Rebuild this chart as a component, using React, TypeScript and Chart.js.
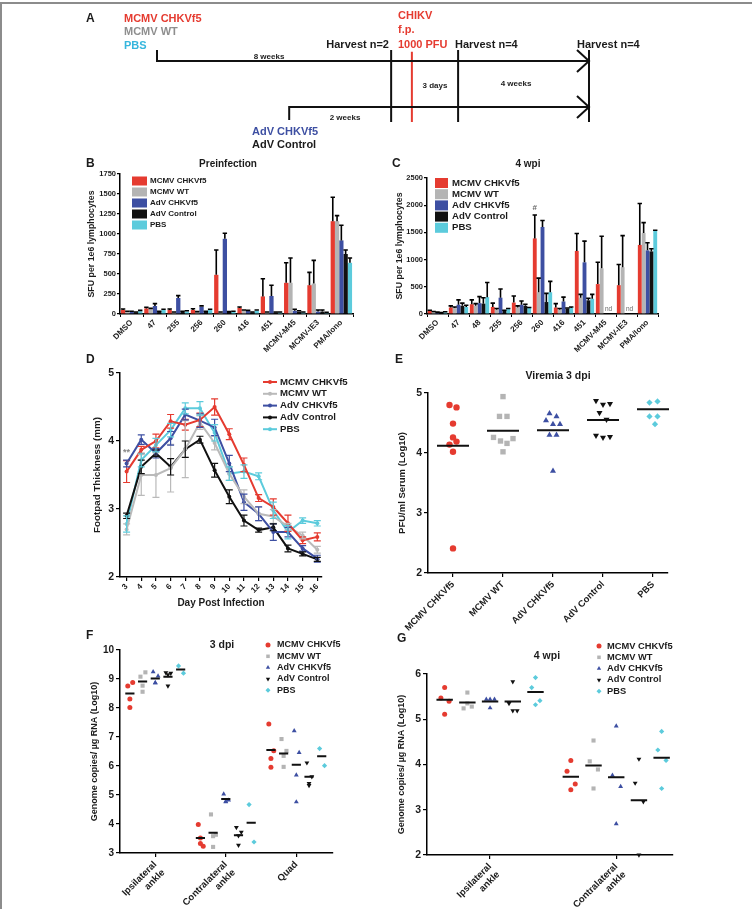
import React, { useEffect, useRef } from "react";
import { Chart, registerables } from "chart.js";

Chart.register(...registerables);

const FONT = "'Liberation Sans', Arial, Helvetica, sans-serif";
const INK = "#1b1b1b";
const RED = "#e53b30";
const GRAY = "#b4b4b4";
const BLUE = "#3d4fa2";
const BLACK = "#111111";
const CYAN = "#5ccbdc";

// ---- groups shared by every panel
const groupNames = ["MCMV CHKVf5", "MCMV WT", "AdV CHKVf5", "AdV Control", "PBS"];
const groupColors = [RED, GRAY, BLUE, BLACK, CYAN];
const groupMarkers = ["circle", "rect", "triangle", "triangle", "rectRot"];
const groupMarkerTurn = [0, 0, 0, 180, 0];

// ---- A: immunisation / challenge timeline (schematic units 0..100 along the arrows)
const primeStart = [0, 30.6];
const primeLane = [1, 0];
const eventAt = [54.2, 59.0, 69.7, 100];
const eventColor = [BLACK, RED, BLACK, BLACK];

// ---- B: ELISpot before infection
const preCats = ["DMSO", "47", "255", "256", "260", "416", "451", "MCMV-M45", "MCMV-IE3", "PMA/Iono"];
const preMcmvChk = [50, 70, 50, 50, 490, 75, 220, 390, 360, 1160];
const preMcmvChkErr = [12, 15, 12, 15, 310, 12, 220, 250, 160, 300];
const preMcmvWt = [30, 60, 20, 25, 20, 45, 20, 390, 380, 1160];
const preMcmvWtErr = [5, 10, 5, 5, 5, 5, 5, 310, 290, 70];
const preAdvChk = [30, 100, 200, 90, 940, 40, 225, 40, 30, 920];
const preAdvChkErr = [5, 30, 30, 12, 70, 5, 135, 20, 20, 190];
const preAdvCtl = [20, 30, 30, 30, 25, 20, 20, 30, 30, 750];
const preAdvCtlErr = [5, 5, 5, 5, 5, 5, 5, 10, 20, 50];
const prePbs = [35, 50, 30, 50, 30, 40, 20, 20, 15, 640];
const prePbsErr = [10, 10, 10, 10, 5, 10, 5, 5, 5, 60];

// ---- C: ELISpot 4 weeks post infection
const wpiCats = ["DMSO", "47", "48", "255", "256", "260", "416", "451", "MCMV-M45", "MCMV-IE3", "PMA/Iono"];
const wpiMcmvChk = [60, 120, 180, 130, 210, 1390, 120, 1160, 550, 530, 1270];
const wpiMcmvChkErr = [10, 30, 80, 70, 120, 430, 70, 320, 400, 380, 760];
const wpiMcmvWt = [40, 110, 150, 80, 120, 400, 80, 300, 840, 860, 1490];
const wpiMcmvWtErr = [5, 20, 40, 20, 30, 260, 20, 60, 590, 580, 190];
const wpiAdvChk = [30, 170, 200, 300, 170, 1600, 230, 950, null, null, 1170];
const wpiAdvChkErr = [5, 90, 120, 160, 70, 120, 80, 390, 0, 0, 140];
const wpiAdvCtl = [20, 150, 190, 60, 150, 220, 100, 250, null, null, 1150];
const wpiAdvCtlErr = [5, 50, 110, 10, 30, 160, 10, 40, 0, 0, 50];
const wpiPbs = [30, 130, 310, 90, 110, 400, 110, 280, null, null, 1530];
const wpiPbsErr = [10, 30, 270, 10, 10, 200, 20, 80, 0, 0, 10];
const wpiHashAt = 5;
const wpiNdAt = [8, 9];

// ---- D: footpad swelling
const days = [3, 4, 5, 6, 7, 8, 9, 10, 11, 12, 13, 14, 15, 16];
const dMcmvChk = [3.55, 3.87, 4.0, 4.29, 4.24, 4.31, 4.5, 4.1, 3.65, 3.16, 3.03, 2.79, 2.54, 2.59];
const dMcmvChkErr = [0.16, 0.05, 0.1, 0.1, 0.08, 0.1, 0.12, 0.08, 0.1, 0.05, 0.12, 0.12, 0.05, 0.06];
const dMcmvWt = [2.7, 3.5, 3.5, 3.6, 3.88, 4.27, 3.97, 3.52, 3.18, 2.93, 2.89, 2.74, 2.61, 2.4];
const dMcmvWtErr = [0.08, 0.3, 0.33, 0.35, 0.42, 0.1, 0.1, 0.1, 0.1, 0.1, 0.1, 0.05, 0.05, 0.05];
const dAdvChk = [3.67, 4.02, 3.82, 4.04, 4.39, 4.3, 4.2, 3.67, 3.1, 2.93, 2.66, 2.66, 2.42, 2.27];
const dAdvChkErr = [0.05, 0.07, 0.07, 0.1, 0.08, 0.1, 0.12, 0.12, 0.12, 0.1, 0.12, 0.07, 0.04, 0.05];
const dAdvCtl = [2.9, 3.62, 3.82, 3.62, 3.88, 4.02, 3.57, 3.18, 2.83, 2.69, 2.73, 2.42, 2.34, 2.26];
const dAdvCtlErr = [0.04, 0.1, 0.05, 0.12, 0.12, 0.05, 0.1, 0.1, 0.08, 0.03, 0.05, 0.05, 0.03, 0.03];
const dPbs = [2.78, 3.72, 3.94, 4.16, 4.48, 4.48, 4.12, 3.52, 3.55, 3.48, 2.98, 2.66, 2.83, 2.79];
const dPbsErr = [0.12, 0.1, 0.1, 0.1, 0.08, 0.1, 0.12, 0.1, 0.1, 0.05, 0.12, 0.1, 0.04, 0.04];
const dStarDay = 3;

// ---- E: viremia 3 dpi
const eMcmvChk = [4.8, 4.76, 4.49, 4.26, 4.19, 4.14, 4.02, 2.41];
const eMcmvChkJit = [-0.07, 0.07, 0, 0, 0.07, -0.07, 0, 0];
const eMcmvWt = [4.94, 4.61, 4.61, 4.26, 4.2, 4.16, 4.24, 4.02];
const eMcmvWtJit = [0, -0.07, 0.08, -0.19, -0.05, 0.08, 0.2, 0];
const eAdvChk = [4.66, 4.61, 4.54, 4.48, 4.48, 4.3, 4.3, 3.7];
const eAdvChkJit = [-0.07, 0.07, -0.14, 0, 0.14, -0.07, 0.07, 0];
const eAdvCtl = [4.87, 4.81, 4.82, 4.67, 4.56, 4.29, 4.26, 4.27];
const eAdvCtlJit = [-0.14, 0, 0.14, -0.07, 0.07, -0.14, 0, 0.14];
const ePbs = [4.84, 4.86, 4.61, 4.61, 4.48];
const ePbsJit = [-0.07, 0.09, -0.07, 0.09, 0.04];
const eMean = [4.12, 4.37, 4.38, 4.55, 4.73];

// ---- F: viral RNA 3 dpi (per tissue: ipsilateral ankle, contralateral ankle, quad)
const fTissues = [["Ipsilateral", "ankle"], ["Contralateral", "ankle"], ["Quad"]];
const fMcmvChk = [[8.76, 8.88, 8.31, 8.02], [3.98, 3.23, 3.33, 3.52], [7.45, 6.53, 6.26, 5.96]];
const fMcmvWt = [[9.08, 9.23, 8.77, 8.56], [4.33, 3.63, 3.58, 3.21], [6.93, 6.52, 6.35, 5.97]];
const fAdvChk = [[9.25, 9.1, 8.87, 8.87], [5.03, 4.82, 4.76, 4.78], [7.21, 6.46, 5.69, 4.76]];
const fAdvCtl = [[9.22, 9.2, 9.15, 8.76], [3.88, 3.72, 3.27, 3.6], [6.11, 5.63, 5.4, 5.33]];
const fPbs = [[9.45, 9.2], [4.67, 3.38], [6.6, 6.01]];
const fMean = [[8.5, 8.91, 9.02, 9.08, 9.33], [3.52, 3.7, 4.86, 3.61, 4.04], [6.55, 6.43, 6.04, 5.63, 6.34]];

// ---- G: viral RNA 4 wpi
const gTissues = [["Ipsilateral", "ankle"], ["Contralateral", "ankle"]];
const gMcmvChk = [[5.7, 5.47, 5.4, 5.11], [4.09, 3.85, 3.57, 3.44]];
const gMcmvWt = [[5.59, 5.24, 5.28, 5.35], [4.53, 4.07, 3.89, 3.47]];
const gAdvChk = [[5.44, 5.44, 5.44, 5.25], [4.85, 3.76, 3.51, 2.69]];
const gAdvCtl = [[5.83, 5.35, 5.19, 5.19], [4.12, 3.59, 3.18, 2.0]];
const gPbs = [[5.92, 5.7, 5.41, 5.32], [4.73, 4.32, 4.09, 3.47]];
const gMean = [[5.43, 5.37, 5.39, 5.39, 5.6], [3.73, 3.98, 3.72, 3.21, 4.15]];

// ---------------------------------------------------------------- helpers
type Rect = { left: number; top: number; width: number; height: number };
type Area = { left: number; top: number; right: number; bottom: number };

const bold = (size: number) => ({ family: FONT, size, weight: "bold" as const });

function frame(box: Rect, area: Area) {
  return {
    padding: { top: area.top - box.top, right: box.left + box.width - area.right, left: 0, bottom: 0 },
    yWidth: area.left - box.left,
    xHeight: box.top + box.height - area.bottom,
  };
}

function baseOptions(fr: any) {
  return {
    responsive: false,
    animation: false,
    devicePixelRatio: 1,
    events: [],
    layout: { padding: fr.padding },
    plugins: { legend: { display: false }, tooltip: { enabled: false }, title: { display: false } },
  };
}

function yAxis(fr: any, min: number, max: number, step: number, size: number, title: string, titleSize: number, tickLen = 4, pad = 2) {
  return {
    type: "linear",
    position: "left",
    min,
    max,
    afterFit: (s: any) => {
      s.width = fr.yWidth;
      s.paddingTop = 0;
      s.paddingBottom = 0;
    },
    border: { display: true, color: "#000", width: 1.5 },
    grid: { display: true, drawOnChartArea: false, drawTicks: true, tickLength: tickLen, color: "#000", lineWidth: 1.2 },
    ticks: { stepSize: step, color: INK, font: bold(size), padding: pad, callback: (v: any) => String(v) },
    title: { display: true, text: title, color: INK, font: bold(titleSize), padding: 0 },
  };
}

function xFit(fr: any) {
  return (s: any) => {
    s.height = fr.xHeight;
    s.paddingLeft = 0;
    s.paddingRight = 0;
  };
}

function drawMarker(ctx: CanvasRenderingContext2D, style: string, x: number, y: number, r: number, turn: number, color: string) {
  ctx.save();
  ctx.translate(x, y);
  ctx.rotate((turn * Math.PI) / 180);
  ctx.fillStyle = color;
  ctx.beginPath();
  if (style === "rect") {
    const s = r * Math.SQRT1_2;
    ctx.rect(-s, -s, 2 * s, 2 * s);
  } else if (style === "rectRot") {
    ctx.moveTo(-r, 0);
    ctx.lineTo(0, -r);
    ctx.lineTo(r, 0);
    ctx.lineTo(0, r);
    ctx.closePath();
  } else if (style === "triangle") {
    let a = 0;
    ctx.moveTo(Math.sin(a) * r, -Math.cos(a) * r);
    a += (2 * Math.PI) / 3;
    ctx.lineTo(Math.sin(a) * r, -Math.cos(a) * r);
    a += (2 * Math.PI) / 3;
    ctx.lineTo(Math.sin(a) * r, -Math.cos(a) * r);
    ctx.closePath();
  } else {
    ctx.arc(0, 0, r, 0, Math.PI * 2);
  }
  ctx.fill();
  ctx.restore();
}

// legend drawn inside / above the plotting area
function insetLegend(o: any) {
  return {
    id: "insetLegend",
    afterDraw(chart: any) {
      const ctx = chart.ctx as CanvasRenderingContext2D;
      const a = chart.chartArea;
      let k = 0;
      chart.data.datasets.forEach((ds: any) => {
        if (!ds.inLegend) return;
        const x = a.left + o.dx;
        const y = a.top + o.dy + k * o.row;
        k++;
        let tx = x;
        if (o.kind === "bar") {
          ctx.fillStyle = ds.backgroundColor;
          ctx.fillRect(x, y - o.boxH / 2, o.boxW, o.boxH);
          tx = x + o.boxW + o.gap;
        } else if (o.kind === "line") {
          ctx.save();
          ctx.strokeStyle = ds.borderColor;
          ctx.lineWidth = 2;
          ctx.beginPath();
          ctx.moveTo(x, y);
          ctx.lineTo(x + o.boxW, y);
          ctx.stroke();
          ctx.restore();
          drawMarker(ctx, "circle", x + o.boxW / 2, y, o.r, 0, ds.borderColor);
          tx = x + o.boxW + o.gap;
        } else {
          drawMarker(ctx, ds.pointStyle, x, y, o.r, ds.pointRotation || 0, ds.backgroundColor);
          tx = x + o.gap;
        }
        ctx.save();
        ctx.fillStyle = INK;
        ctx.font = `bold ${o.size}px ${FONT}`;
        ctx.textAlign = "left";
        ctx.textBaseline = "middle";
        ctx.fillText(ds.label, tx, y);
        ctx.restore();
      });
    },
  };
}

// SEM / SD whiskers read from dataset.errs
function errorBars(mode: "up" | "both", cap: number, width: number) {
  return {
    id: "errorBars",
    afterDatasetsDraw(chart: any) {
      const ctx = chart.ctx as CanvasRenderingContext2D;
      const ys = chart.scales.y;
      chart.data.datasets.forEach((ds: any, i: number) => {
        const errs = ds.errs;
        if (!errs) return;
        const meta = chart.getDatasetMeta(i);
        ctx.save();
        ctx.strokeStyle = mode === "up" ? "#000" : ds.borderColor;
        ctx.lineWidth = width;
        meta.data.forEach((el: any, j: number) => {
          const raw = ds.data[j];
          const v = typeof raw === "number" ? raw : raw && raw.y;
          if (v == null || !errs[j]) return;
          const top = ys.getPixelForValue(v + errs[j]);
          const bot = mode === "up" ? ys.getPixelForValue(v) : ys.getPixelForValue(v - errs[j]);
          const cx = el.x;
          ctx.beginPath();
          ctx.moveTo(cx, bot);
          ctx.lineTo(cx, top);
          ctx.moveTo(cx - cap, top);
          ctx.lineTo(cx + cap, top);
          if (mode === "both") {
            ctx.moveTo(cx - cap, bot);
            ctx.lineTo(cx + cap, bot);
          }
          ctx.stroke();
        });
        ctx.restore();
      });
    },
  };
}

function meanSegments(means: number[], center: (g: number) => number, half: number) {
  const pts: any[] = [];
  means.forEach((m, g) => {
    const c = center(g);
    pts.push({ x: c - half, y: m }, { x: c + half, y: m }, { x: c + half, y: null });
  });
  return pts;
}

// ---------------------------------------------------------------- chart configs
function timelineConfig() {
  const seg = (pts: number[][], color: string) => ({
    data: pts.map(([x, y]) => ({ x, y })),
    showLine: true,
    borderColor: color,
    borderWidth: 2,
    pointRadius: 0,
    borderCapStyle: "butt",
    borderJoinStyle: "miter",
    clip: false,
  });
  const ds: any[] = [];
  primeStart.forEach((s, i) => {
    const lane = primeLane[i];
    const tickEnd = lane === 1 ? lane + 0.239 : lane - 0.283;
    ds.push(seg([[s, tickEnd], [s, lane], [100, lane]], BLACK));
    ds.push(seg([[100 - 2.78, lane + 0.239], [100, lane], [100 - 2.78, lane - 0.239]], BLACK));
  });
  eventAt.forEach((x, i) => ds.push(seg([[x, i === 1 ? 1.2 : 1.239], [x, -0.326]], eventColor[i])));
  return {
    type: "scatter",
    data: { datasets: ds },
    options: {
      ...baseOptions({ padding: 0 }),
      scales: {
        x: { type: "linear", display: false, min: -17.824, max: 121.065 },
        y: { type: "linear", display: false, min: -1.152, max: 2.326 },
      },
    },
  };
}

function barConfig(box: Rect, area: Area, cats: string[], vals: any[][], errs: number[][], yMax: number, yStep: number, leg: any, extra: any[]) {
  const fr = frame(box, area);
  return {
    type: "bar",
    data: {
      labels: cats,
      datasets: groupNames.map((n, g) => ({
        label: n,
        data: vals[g],
        errs: errs[g],
        backgroundColor: groupColors[g],
        borderWidth: 0,
        categoryPercentage: 0.92,
        barPercentage: 1,
        inLegend: true,
      })),
    },
    options: {
      ...baseOptions(fr),
      scales: {
        x: {
          type: "category",
          position: "bottom",
          afterFit: xFit(fr),
          border: { display: true, color: "#000", width: 1.5 },
          grid: { display: true, drawOnChartArea: false, tickLength: 3, color: "#000", lineWidth: 1 },
          ticks: { color: INK, font: bold(8), minRotation: 45, maxRotation: 45, autoSkip: false, padding: 1 },
        },
        y: yAxis(fr, 0, yMax, yStep, 7.5, "SFU per 1e6 lymphocytes", 8.8, 3, 1),
      },
    },
    plugins: [errorBars("up", 2.2, 1.6), insetLegend(leg), ...extra],
  };
}

const preBox = { left: 86, top: 168, width: 279, height: 197 };
const wpiBox = { left: 394, top: 170, width: 278, height: 195 };

function preConfig() {
  return barConfig(
    preBox,
    { left: 120, top: 174, right: 353, bottom: 314 },
    preCats,
    [preMcmvChk, preMcmvWt, preAdvChk, preAdvCtl, prePbs],
    [preMcmvChkErr, preMcmvWtErr, preAdvChkErr, preAdvCtlErr, prePbsErr],
    1750,
    250,
    { kind: "bar", dx: 12, dy: 7, row: 11, boxW: 15, boxH: 9, gap: 3, size: 8 },
    []
  );
}

function wpiConfig() {
  const notes = {
    id: "wpiNotes",
    afterDatasetsDraw(chart: any) {
      const ctx = chart.ctx as CanvasRenderingContext2D;
      const xs = chart.scales.x;
      const ys = chart.scales.y;
      ctx.save();
      ctx.fillStyle = "#666";
      ctx.textAlign = "center";
      ctx.font = `bold 8px ${FONT}`;
      ctx.textBaseline = "bottom";
      const el = chart.getDatasetMeta(0).data[wpiHashAt];
      ctx.fillText("#", el.x, ys.getPixelForValue(wpiMcmvChk[wpiHashAt] + wpiMcmvChkErr[wpiHashAt]) - 3);
      ctx.font = `6.5px ${FONT}`;
      ctx.textBaseline = "middle";
      wpiNdAt.forEach((i) => ctx.fillText("nd", xs.getPixelForValue(i) + 3, chart.chartArea.bottom - 5));
      ctx.restore();
    },
  };
  return barConfig(
    wpiBox,
    { left: 427, top: 178, right: 658, bottom: 314 },
    wpiCats,
    [wpiMcmvChk, wpiMcmvWt, wpiAdvChk, wpiAdvCtl, wpiPbs],
    [wpiMcmvChkErr, wpiMcmvWtErr, wpiAdvChkErr, wpiAdvCtlErr, wpiPbsErr],
    2500,
    500,
    { kind: "bar", dx: 8, dy: 5, row: 11.2, boxW: 13, boxH: 10, gap: 4, size: 9.6 },
    [notes]
  );
}

function footpadConfig() {
  const box = { left: 91, top: 365, width: 269, height: 244 };
  const area = { left: 120, top: 373, right: 322, bottom: 577 };
  const fr = frame(box, area);
  const vals = [dMcmvChk, dMcmvWt, dAdvChk, dAdvCtl, dPbs];
  const errs = [dMcmvChkErr, dMcmvWtErr, dAdvChkErr, dAdvCtlErr, dPbsErr];
  const colors = [RED, "#bababa", BLUE, BLACK, CYAN];
  const stars = {
    id: "stars",
    afterDatasetsDraw(chart: any) {
      const ctx = chart.ctx as CanvasRenderingContext2D;
      const k = days.indexOf(dStarDay);
      ctx.save();
      ctx.fillStyle = "#888";
      ctx.font = `bold 9px ${FONT}`;
      ctx.textAlign = "center";
      ctx.textBaseline = "bottom";
      ctx.fillText("**", chart.scales.x.getPixelForValue(dStarDay), chart.scales.y.getPixelForValue(dMcmvChk[k] + dMcmvChkErr[k]) - 4);
      ctx.restore();
    },
  };
  return {
    type: "line",
    data: {
      datasets: groupNames.map((n, g) => ({
        label: n,
        data: days.map((d, k) => ({ x: d, y: vals[g][k] })),
        errs: errs[g],
        borderColor: colors[g],
        backgroundColor: colors[g],
        borderWidth: 2,
        pointRadius: 2,
        pointBorderWidth: 0,
        tension: 0,
        clip: false,
        inLegend: true,
      })),
    },
    options: {
      ...baseOptions(fr),
      scales: {
        x: {
          type: "linear",
          position: "bottom",
          min: 2.55,
          max: 16.32,
          afterFit: xFit(fr),
          afterBuildTicks: (s: any) => {
            s.ticks = days.map((v) => ({ value: v }));
          },
          border: { display: true, color: "#000", width: 1.5 },
          grid: { display: true, drawOnChartArea: false, tickLength: 4, color: "#000", lineWidth: 1.2 },
          ticks: { color: INK, font: bold(8), minRotation: 45, maxRotation: 45, autoSkip: false, padding: 1, callback: (v: any) => String(v) },
          title: { display: true, text: "Day Post Infection", color: INK, font: bold(10), padding: 0 },
        },
        y: yAxis(fr, 2, 5, 1, 10.5, "Footpad Thickness (mm)", 9.8),
      },
    },
    plugins: [errorBars("both", 3.5, 1.2), insetLegend({ kind: "line", dx: 143, dy: 9, row: 11.8, boxW: 14, gap: 3, size: 9.6, r: 2 }), stars],
  };
}

function scatterAxisX(fr: any, min: number, max: number, labels: any[], size: number) {
  return {
    type: "linear",
    position: "bottom",
    min,
    max,
    afterFit: xFit(fr),
    afterBuildTicks: (s: any) => {
      s.ticks = labels.map((_, i) => ({ value: i }));
    },
    border: { display: true, color: "#000", width: 1.5 },
    grid: { display: true, drawOnChartArea: false, tickLength: 4, color: "#000", lineWidth: 1.2 },
    ticks: { color: INK, font: bold(size), minRotation: 45, maxRotation: 45, autoSkip: false, padding: 2, callback: (v: any) => labels[v] },
  };
}

function viremiaConfig() {
  const box = { left: 397, top: 385, width: 283, height: 265 };
  const area = { left: 428, top: 393, right: 668, bottom: 573 };
  const fr = frame(box, area);
  const vals = [eMcmvChk, eMcmvWt, eAdvChk, eAdvCtl, ePbs];
  const jit = [eMcmvChkJit, eMcmvWtJit, eAdvChkJit, eAdvCtlJit, ePbsJit];
  const radii = [3.2, 3.8, 3.5, 3.5, 3.1];
  const ds: any[] = groupNames.map((n, g) => ({
    label: n,
    data: vals[g].map((v, k) => ({ x: g + jit[g][k], y: v })),
    pointStyle: groupMarkers[g],
    pointRotation: groupMarkerTurn[g],
    pointRadius: radii[g],
    pointBorderWidth: 0,
    backgroundColor: groupColors[g],
    borderColor: groupColors[g],
    clip: false,
  }));
  ds.push({
    data: meanSegments(eMean, (g) => g, 0.32),
    showLine: true,
    spanGaps: false,
    pointRadius: 0,
    borderColor: BLACK,
    borderWidth: 2,
    order: -1,
    clip: false,
  });
  return {
    type: "scatter",
    data: { datasets: ds },
    options: {
      ...baseOptions(fr),
      scales: {
        x: scatterAxisX(fr, -0.5, 4.3, groupNames, 9.3),
        y: yAxis(fr, 2, 5, 1, 10.5, "PFU/ml Serum (Log10)", 9.5),
      },
    },
  };
}

const tissueOffset = [-0.36, -0.18, 0, 0.18, 0.36];

function rnaConfig(box: Rect, area: Area, tissues: any[], series: number[][][], means: number[][], xMax: number, yMin: number, yMax: number, jitter: number[], half: number, leg: any, tickSize: number) {
  const fr = frame(box, area);
  const radii = [2.5, 2.9, 2.8, 2.8, 2.6];
  const ds: any[] = groupNames.map((n, g) => {
    const data: any[] = [];
    tissues.forEach((_, t) => {
      series[g][t].forEach((v, k) => data.push({ x: t + tissueOffset[g] + jitter[k % jitter.length], y: v }));
    });
    return {
      label: n,
      data,
      pointStyle: groupMarkers[g],
      pointRotation: groupMarkerTurn[g],
      pointRadius: radii[g],
      pointBorderWidth: 0,
      backgroundColor: groupColors[g],
      borderColor: groupColors[g],
      clip: false,
      inLegend: true,
    };
  });
  const segs: any[] = [];
  tissues.forEach((_, t) => {
    segs.push(...meanSegments(means[t], (g) => t + tissueOffset[g], half));
  });
  ds.push({
    data: segs,
    showLine: true,
    spanGaps: false,
    pointRadius: 0,
    borderColor: BLACK,
    borderWidth: 2,
    order: -1,
    clip: false,
  });
  return {
    type: "scatter",
    data: { datasets: ds },
    options: {
      ...baseOptions(fr),
      scales: {
        x: scatterAxisX(fr, -0.5, xMax, tissues, 9.5),
        y: yAxis(fr, yMin, yMax, 1, tickSize, "Genome copies/ µg RNA (Log10)", 9),
      },
    },
    plugins: [insetLegend(leg)],
  };
}

function rna3Config() {
  return rnaConfig(
    { left: 89, top: 632, width: 266, height: 277 },
    { left: 120, top: 650, right: 333, bottom: 853 },
    fTissues,
    [fMcmvChk, fMcmvWt, fAdvChk, fAdvCtl, fPbs],
    fMean,
    2.52,
    3,
    10,
    [-0.03, 0.04, 0, 0],
    0.065,
    { kind: "point", dx: 148, dy: -5, row: 11.3, gap: 9, size: 9, r: 2.5 },
    10
  );
}

function rna4Config() {
  return rnaConfig(
    { left: 396, top: 632, width: 304, height: 277 },
    { left: 427, top: 674, right: 673, bottom: 855 },
    gTissues,
    [gMcmvChk, gMcmvWt, gAdvChk, gAdvCtl, gPbs],
    gMean,
    1.45,
    2,
    6,
    [0, -0.03, 0.035, 0],
    0.065,
    { kind: "point", dx: 172, dy: -28, row: 11.3, gap: 8, size: 9.3, r: 2.5 },
    10.5
  );
}

// ---------------------------------------------------------------- components
function ChartBox({ box, config }: { box: Rect; config: () => any }) {
  const ref = useRef<HTMLCanvasElement | null>(null);
  useEffect(() => {
    const chart = new Chart(ref.current as HTMLCanvasElement, config());
    return () => chart.destroy();
  }, []);
  return (
    <canvas
      ref={ref}
      width={box.width}
      height={box.height}
      style={{ position: "absolute", left: box.left, top: box.top, width: box.width, height: box.height }}
    />
  );
}

function Txt({ x, y, size = 11, color = INK, align = "left", children }: any) {
  const tx = align === "center" ? "-50%" : align === "right" ? "-100%" : "0";
  return (
    <div
      style={{
        position: "absolute",
        left: x,
        top: y,
        transform: `translate(${tx}, -50%)`,
        fontFamily: FONT,
        fontWeight: 700,
        fontSize: size,
        lineHeight: 1,
        color,
        whiteSpace: "nowrap",
      }}
    >
      {children}
    </div>
  );
}

export default function App() {
  return (
    <div style={{ position: "absolute", left: 0, top: 0, width: 752, height: 909, background: "#fff", overflow: "hidden" }}>
      <div style={{ position: "absolute", left: 0, top: 2, width: 752, height: 907, borderTop: "2px solid #8c8c8c", borderLeft: "2px solid #8c8c8c", boxSizing: "border-box" }} />

      {/* A */}
      <ChartBox box={{ left: 80, top: 0, width: 600, height: 160 }} config={timelineConfig} />
      <Txt x={86} y={18} size={12}>A</Txt>
      <Txt x={124} y={18} color={RED}>MCMV CHKVf5</Txt>
      <Txt x={124} y={31} color="#8e8e8e">MCMV WT</Txt>
      <Txt x={124} y={45} color="#36b6dd">PBS</Txt>
      <Txt x={398} y={15} color={RED}>CHIKV</Txt>
      <Txt x={398} y={29} color={RED}>f.p.</Txt>
      <Txt x={398} y={44} color={RED}>1000 PFU</Txt>
      <Txt x={389} y={44} align="right">Harvest n=2</Txt>
      <Txt x={455} y={44}>Harvest n=4</Txt>
      <Txt x={577} y={44}>Harvest n=4</Txt>
      <Txt x={269} y={57} size={8} align="center">8 weeks</Txt>
      <Txt x={435} y={86} size={8} align="center">3 days</Txt>
      <Txt x={516} y={84} size={8} align="center">4 weeks</Txt>
      <Txt x={345} y={118} size={8} align="center">2 weeks</Txt>
      <Txt x={252} y={131} color={BLUE}>AdV CHKVf5</Txt>
      <Txt x={252} y={144}>AdV Control</Txt>

      {/* B & C */}
      <ChartBox box={preBox} config={preConfig} />
      <Txt x={86} y={163} size={12}>B</Txt>
      <Txt x={228} y={164} size={10} align="center">Preinfection</Txt>
      <ChartBox box={wpiBox} config={wpiConfig} />
      <Txt x={392} y={163} size={12}>C</Txt>
      <Txt x={528} y={164} size={10} align="center">4 wpi</Txt>

      {/* D & E */}
      <ChartBox box={{ left: 91, top: 365, width: 269, height: 244 }} config={footpadConfig} />
      <Txt x={86} y={359} size={12}>D</Txt>
      <ChartBox box={{ left: 397, top: 385, width: 283, height: 265 }} config={viremiaConfig} />
      <Txt x={395} y={359} size={12}>E</Txt>
      <Txt x={558} y={375} size={10.5} align="center">Viremia 3 dpi</Txt>

      {/* F & G */}
      <ChartBox box={{ left: 89, top: 632, width: 266, height: 277 }} config={rna3Config} />
      <Txt x={86} y={635} size={12}>F</Txt>
      <Txt x={222} y={644} size={10.5} align="center">3 dpi</Txt>
      <ChartBox box={{ left: 396, top: 632, width: 304, height: 277 }} config={rna4Config} />
      <Txt x={397} y={638} size={12}>G</Txt>
      <Txt x={547} y={655} size={10.5} align="center">4 wpi</Txt>
    </div>
  );
}
